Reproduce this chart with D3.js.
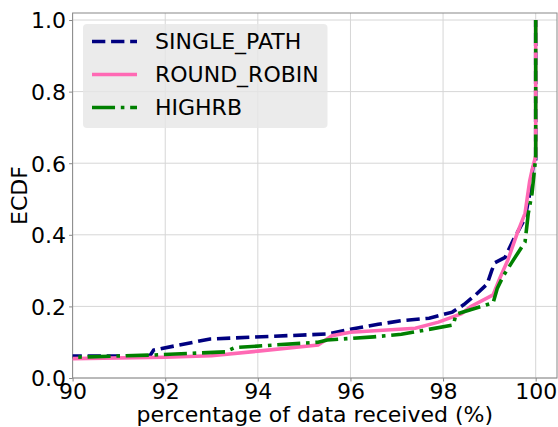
<!DOCTYPE html>
<html>
<head>
<meta charset="utf-8">
<script src="https://cdn.jsdelivr.net/npm/d3@7"></script>
<style>
  body { margin: 0; background: #fff; }
  text { font-family: "DejaVu Sans", sans-serif; fill: #000; }
</style>
</head>
<body>
<div id="chart-area"></div>
<script>
// series names and colours
const SERIES = ["SINGLE_PATH", "ROUND_ROBIN", "HIGHRB"]

// ECDF points: [percentage, ecdf]
const singlePath = [
  [89.5, 0.060], [90, 0.061], [91.67, 0.062], [91.75, 0.078], [92.97, 0.109],
  [95.5, 0.123], [96.0, 0.136], [96.6, 0.150], [97.1, 0.160], [97.7, 0.167],
  [98.2, 0.184], [98.45, 0.205], [98.7, 0.232], [98.95, 0.262], [99.05, 0.300],
  [99.12, 0.322], [99.34, 0.337], [99.51, 0.384], [99.77, 0.446], [99.87, 0.515],
  [99.94, 0.588], [100, 0.60], [100, 1.0]
]
const roundRobin = [
  [89.5, 0.053], [90, 0.054], [92, 0.058], [93, 0.062], [94, 0.075],
  [95.3, 0.092], [95.6, 0.118], [96.0, 0.128], [97.4, 0.139], [97.9, 0.156],
  [98.4, 0.180], [98.6, 0.200], [99.08, 0.232], [99.23, 0.280], [99.4, 0.330],
  [99.6, 0.404], [99.77, 0.460], [99.87, 0.550], [99.92, 0.580], [99.96, 0.600],
  [100, 0.62], [100, 1.0]
]
const highRb = [
  [89.5, 0.057], [90, 0.058], [91.7, 0.064], [93.3, 0.073], [93.5, 0.085],
  [95.3, 0.100], [95.5, 0.106], [96.5, 0.115], [97.1, 0.122], [98.22, 0.148],
  [98.28, 0.178], [99.08, 0.210], [99.17, 0.250], [99.3, 0.285], [99.52, 0.330],
  [99.77, 0.380], [99.84, 0.460], [99.92, 0.515], [99.98, 0.590], [100, 0.62],
  [100, 1.0]
]

const xTicks = [90, 92, 94, 96, 98, 100]
const yTicks = [0, 0.2, 0.4, 0.6, 0.8, 1.0]

// canvas and margin sizes
const MARGIN = { LEFT: 72.6, RIGHT: 1, TOP: 13, BOTTOM: 49 }
const WIDTH = 558 - MARGIN.LEFT - MARGIN.RIGHT
const HEIGHT = 427 - MARGIN.TOP - MARGIN.BOTTOM
const LW = 3.6
const FS = "22px"

const svg = d3.select("#chart-area").append("svg")
  .attr("width", 558)
  .attr("height", 427)

const g = svg.append("g")
  .attr("transform", `translate(${MARGIN.LEFT}, ${MARGIN.TOP})`)

const x = d3.scaleLinear().domain([90, 100.46]).range([0, WIDTH])
const y = d3.scaleLinear().domain([0, 1.0196]).range([HEIGHT, 0])

// grid
g.selectAll(".xgrid").data(xTicks).enter().append("line")
  .attr("x1", d => x(d)).attr("x2", d => x(d))
  .attr("y1", 0).attr("y2", HEIGHT)
  .attr("stroke", "#d6d6d6").attr("stroke-width", 1)
g.selectAll(".ygrid").data(yTicks).enter().append("line")
  .attr("y1", d => y(d)).attr("y2", d => y(d))
  .attr("x1", 0).attr("x2", WIDTH)
  .attr("stroke", "#d6d6d6").attr("stroke-width", 1)

// axes
const xAxisGroup = g.append("g")
  .attr("transform", `translate(0, ${HEIGHT})`)
  .call(d3.axisBottom(x).tickValues(xTicks).tickSize(3.5).tickPadding(2).tickFormat(d3.format("d")))
const yAxisGroup = g.append("g")
  .call(d3.axisLeft(y).tickValues(yTicks).tickSize(3.5).tickPadding(3).tickFormat(d3.format(".1f")))

for (const ax of [xAxisGroup, yAxisGroup]) {
  ax.select(".domain").remove()
  ax.selectAll(".tick line").attr("stroke", "#888")
  ax.selectAll(".tick text")
    .attr("font-size", FS)
    .attr("font-family", "DejaVu Sans")
    .attr("fill", "#000")
}
yAxisGroup.selectAll(".tick text").attr("dy", "0.36em")
xAxisGroup.selectAll(".tick text").attr("dy", "0.72em")

// frame
g.append("rect")
  .attr("width", WIDTH).attr("height", HEIGHT)
  .attr("fill", "none").attr("stroke", "#888").attr("stroke-width", 1)

// clip
svg.append("clipPath").attr("id", "clip")
  .append("rect").attr("x", 0).attr("y", -4).attr("width", WIDTH).attr("height", HEIGHT + 4)

const line = d3.line().x(d => x(d[0])).y(d => y(d[1]))

const styles = [
  { data: singlePath, color: "#000080", dash: `${3.7 * LW},${1.6 * LW}` },
  { data: roundRobin, color: "#ff69b4", dash: null },
  { data: highRb, color: "#008000", dash: `${6.4 * LW},${1.6 * LW},${1 * LW},${1.6 * LW}` }
]

const plot = g.append("g").attr("clip-path", "url(#clip)")
styles.forEach(s => {
  plot.append("path")
    .datum(s.data)
    .attr("d", line)
    .attr("fill", "none")
    .attr("stroke", s.color)
    .attr("stroke-width", LW)
    .attr("stroke-dasharray", s.dash)
})

// labels
g.append("text")
  .attr("x", WIDTH / 2)
  .attr("y", HEIGHT + 44)
  .attr("font-size", FS)
  .attr("text-anchor", "middle")
  .text("percentage of data received (%)")

g.append("text")
  .attr("transform", `translate(${27 - MARGIN.LEFT}, ${HEIGHT / 2}) rotate(-90)`)
  .attr("font-size", FS)
  .attr("text-anchor", "middle")
  .text("ECDF")

// legend
const legend = svg.append("g")
legend.append("rect")
  .attr("x", 83).attr("y", 24).attr("width", 244.5).attr("height", 104)
  .attr("rx", 4)
  .attr("fill", "#e6e6e6").attr("fill-opacity", 0.8)

styles.forEach((s, i) => {
  const base = 49 + i * 33
  legend.append("line")
    .attr("x1", 92).attr("x2", 137)
    .attr("y1", base - 7.5).attr("y2", base - 7.5)
    .attr("stroke", s.color)
    .attr("stroke-width", LW)
    .attr("stroke-dasharray", s.dash)
  legend.append("text")
    .attr("x", 155).attr("y", base)
    .attr("font-size", FS)
    .text(SERIES[i])
})
</script>
</body>
</html>
